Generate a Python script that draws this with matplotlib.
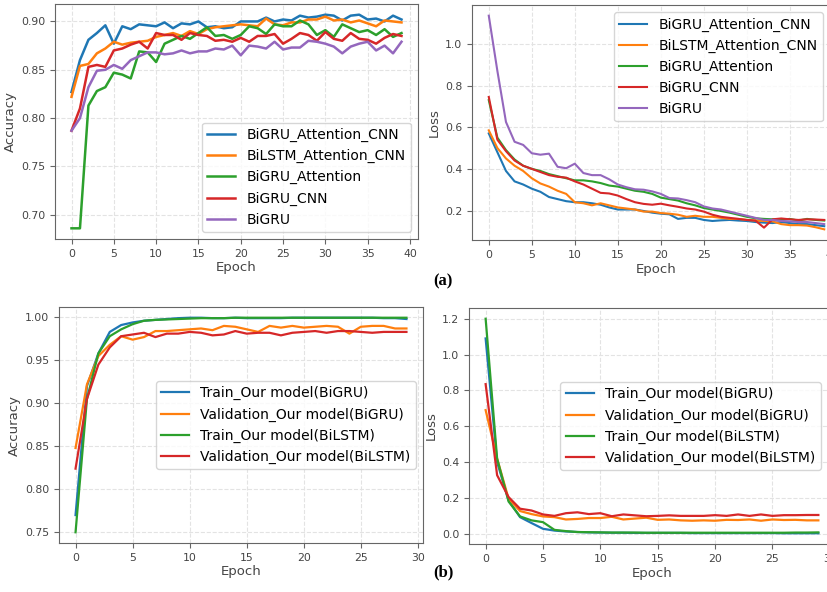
import matplotlib
matplotlib.use("Agg")
import matplotlib.pyplot as plt

# (a) five models, 40 epochs
epochs_a = list(range(40))
acc_bigru_att_cnn = [0.827, 0.860, 0.881, 0.888, 0.896, 0.877, 0.895, 0.892, 0.897, 0.896,
                     0.895, 0.899, 0.893, 0.898, 0.897, 0.900, 0.894, 0.895, 0.893, 0.894,
                     0.900, 0.900, 0.900, 0.904, 0.900, 0.902, 0.901, 0.906, 0.904, 0.905,
                     0.907, 0.906, 0.901, 0.906, 0.907, 0.902, 0.903, 0.900, 0.906, 0.902]
acc_bilstm_att_cnn = [0.822, 0.854, 0.856, 0.867, 0.872, 0.879, 0.876, 0.878, 0.879, 0.880,
                      0.884, 0.886, 0.888, 0.885, 0.890, 0.887, 0.892, 0.894, 0.895, 0.896,
                      0.897, 0.896, 0.895, 0.903, 0.897, 0.896, 0.899, 0.899, 0.902, 0.902,
                      0.905, 0.901, 0.902, 0.899, 0.901, 0.898, 0.895, 0.901, 0.900, 0.899]
acc_bigru_att = [0.686, 0.686, 0.813, 0.828, 0.832, 0.847, 0.845, 0.841, 0.869, 0.868,
                 0.858, 0.877, 0.881, 0.885, 0.882, 0.888, 0.894, 0.885, 0.886, 0.882,
                 0.886, 0.895, 0.893, 0.887, 0.897, 0.895, 0.895, 0.901, 0.897, 0.886,
                 0.891, 0.884, 0.897, 0.893, 0.889, 0.891, 0.886, 0.892, 0.884, 0.888]
acc_bigru_cnn = [0.787, 0.810, 0.853, 0.855, 0.853, 0.870, 0.872, 0.876, 0.879, 0.872,
                 0.888, 0.886, 0.886, 0.881, 0.888, 0.886, 0.885, 0.880, 0.881, 0.879,
                 0.883, 0.879, 0.885, 0.885, 0.887, 0.877, 0.882, 0.888, 0.886, 0.880,
                 0.889, 0.882, 0.880, 0.888, 0.882, 0.881, 0.877, 0.883, 0.887, 0.885]
acc_bigru = [0.787, 0.800, 0.832, 0.849, 0.850, 0.855, 0.851, 0.860, 0.864, 0.868,
             0.868, 0.866, 0.867, 0.870, 0.867, 0.869, 0.869, 0.872, 0.871, 0.875,
             0.865, 0.875, 0.874, 0.872, 0.879, 0.871, 0.873, 0.873, 0.880, 0.879,
             0.877, 0.874, 0.867, 0.874, 0.877, 0.879, 0.870, 0.875, 0.867, 0.879]

loss_bigru_att_cnn = [0.570, 0.480, 0.390, 0.340, 0.325, 0.305, 0.290, 0.265, 0.255, 0.245,
                      0.240, 0.240, 0.235, 0.228, 0.215, 0.205, 0.205, 0.205, 0.198, 0.190,
                      0.185, 0.182, 0.160, 0.165, 0.165, 0.155, 0.150, 0.153, 0.155, 0.152,
                      0.150, 0.145, 0.142, 0.140, 0.145, 0.140, 0.135, 0.135, 0.130, 0.125]
loss_bilstm_att_cnn = [0.585, 0.500, 0.450, 0.415, 0.390, 0.355, 0.330, 0.315, 0.295, 0.280,
                       0.240, 0.235, 0.225, 0.235, 0.225, 0.215, 0.210, 0.205, 0.195, 0.195,
                       0.188, 0.185, 0.180, 0.170, 0.175, 0.170, 0.170, 0.165, 0.160, 0.160,
                       0.155, 0.152, 0.150, 0.148, 0.135, 0.130, 0.130, 0.128, 0.120, 0.110]
loss_bigru_att = [0.730, 0.550, 0.490, 0.445, 0.415, 0.400, 0.390, 0.375, 0.365, 0.355,
                  0.345, 0.345, 0.340, 0.332, 0.320, 0.315, 0.305, 0.295, 0.290, 0.280,
                  0.262, 0.255, 0.248, 0.235, 0.225, 0.212, 0.205, 0.198, 0.190, 0.180,
                  0.170, 0.163, 0.160, 0.158, 0.155, 0.160, 0.152, 0.160, 0.155, 0.152]
loss_bigru_cnn = [0.745, 0.540, 0.485, 0.440, 0.415, 0.400, 0.385, 0.370, 0.362, 0.358,
                  0.340, 0.325, 0.305, 0.285, 0.282, 0.272, 0.255, 0.240, 0.232, 0.228,
                  0.233, 0.225, 0.218, 0.210, 0.205, 0.195, 0.180, 0.170, 0.165, 0.160,
                  0.155, 0.152, 0.118, 0.158, 0.162, 0.158, 0.155, 0.158, 0.157, 0.155]
loss_bigru = [1.135, 0.870, 0.625, 0.530, 0.515, 0.475, 0.468, 0.473, 0.410, 0.403,
              0.425, 0.380, 0.370, 0.370, 0.350, 0.325, 0.312, 0.302, 0.300, 0.292,
              0.280, 0.260, 0.258, 0.250, 0.240, 0.220, 0.210, 0.205, 0.195, 0.185,
              0.175, 0.165, 0.155, 0.155, 0.150, 0.148, 0.145, 0.145, 0.140, 0.135]

names_a = ["BiGRU_Attention_CNN", "BiLSTM_Attention_CNN", "BiGRU_Attention", "BiGRU_CNN", "BiGRU"]

# (b) our model, 30 epochs
epochs_b = list(range(30))
acc_train_gru = [0.770, 0.920, 0.958, 0.983, 0.991, 0.994, 0.996, 0.997, 0.998, 0.999,
                 0.9995, 0.9995, 0.999, 0.999, 0.9995, 0.999, 0.999, 0.999, 0.999, 0.9995,
                 0.9995, 0.9995, 0.9995, 0.9995, 0.9995, 0.9995, 0.9995, 0.999, 0.999, 0.998]
acc_val_gru = [0.848, 0.922, 0.955, 0.968, 0.978, 0.974, 0.977, 0.984, 0.984, 0.985,
               0.986, 0.987, 0.985, 0.990, 0.989, 0.986, 0.983, 0.990, 0.988, 0.990,
               0.988, 0.989, 0.990, 0.989, 0.981, 0.989, 0.990, 0.990, 0.987, 0.987]
acc_train_lstm = [0.750, 0.905, 0.958, 0.978, 0.986, 0.992, 0.996, 0.997, 0.9975, 0.998,
                  0.9985, 0.999, 0.999, 0.999, 0.9995, 0.9995, 0.9995, 0.9995, 0.9995, 0.9995,
                  0.9995, 0.9995, 0.9995, 0.9995, 0.9995, 0.9995, 0.9995, 0.9995, 0.9995, 0.9995]
acc_val_lstm = [0.824, 0.905, 0.945, 0.965, 0.978, 0.980, 0.982, 0.977, 0.981, 0.981,
                0.983, 0.982, 0.979, 0.980, 0.984, 0.981, 0.982, 0.982, 0.979, 0.982,
                0.983, 0.984, 0.982, 0.984, 0.984, 0.983, 0.982, 0.983, 0.983, 0.983]

loss_train_gru = [1.090, 0.400, 0.187, 0.093, 0.060, 0.028, 0.018, 0.013, 0.010, 0.008,
                  0.007, 0.006, 0.006, 0.005, 0.005, 0.005, 0.005, 0.005, 0.004, 0.004,
                  0.004, 0.004, 0.004, 0.004, 0.004, 0.004, 0.003, 0.003, 0.003, 0.003]
loss_val_gru = [0.690, 0.420, 0.196, 0.127, 0.110, 0.097, 0.093, 0.080, 0.083, 0.088,
                0.088, 0.095, 0.080, 0.085, 0.090, 0.078, 0.080, 0.075, 0.073, 0.075,
                0.073, 0.078, 0.077, 0.080, 0.073, 0.080, 0.077, 0.078, 0.075, 0.075]
loss_train_lstm = [1.200, 0.420, 0.180, 0.097, 0.075, 0.065, 0.022, 0.015, 0.010, 0.009,
                   0.008, 0.007, 0.007, 0.007, 0.006, 0.006, 0.006, 0.006, 0.006, 0.006,
                   0.006, 0.006, 0.006, 0.006, 0.006, 0.006, 0.006, 0.007, 0.007, 0.008]
loss_val_lstm = [0.835, 0.327, 0.205, 0.140, 0.130, 0.108, 0.100, 0.115, 0.120, 0.110,
                 0.115, 0.098, 0.108, 0.103, 0.098, 0.100, 0.103, 0.100, 0.100, 0.100,
                 0.104, 0.100, 0.108, 0.100, 0.108, 0.100, 0.104, 0.104, 0.105, 0.105]

names_b = ["Train_Our model(BiGRU)", "Validation_Our model(BiGRU)",
           "Train_Our model(BiLSTM)", "Validation_Our model(BiLSTM)"]

colors = ["#1f77b4", "#ff7f0e", "#2ca02c", "#d62728", "#9467bd"]

W, H = 827, 592
fig = plt.figure(figsize=(W / 100, H / 100), dpi=100)


def make_ax(left, top, width, height):
    ax = fig.add_axes([left / W, 1 - (top + height) / H, width / W, height / H])
    ax.grid(True, linestyle="--", color="#e3e3e3", linewidth=0.8)
    ax.set_axisbelow(True)
    for s in ax.spines.values():
        s.set_color("#666666")
    ax.tick_params(labelsize=7.8, colors="#666666", labelcolor="#444444")
    return ax


def style_labels(ax, ylabel):
    ax.set_xlabel("Epoch", fontsize=9.5, color="#444444", labelpad=2)
    ax.set_ylabel(ylabel, fontsize=9.5, color="#444444", labelpad=3)


# top left
ax1 = make_ax(55, 4, 363, 235)
for ys, c, n in zip([acc_bigru_att_cnn, acc_bilstm_att_cnn, acc_bigru_att, acc_bigru_cnn, acc_bigru], colors, names_a):
    ax1.plot(epochs_a, ys, color=c, lw=1.8, label=n)
ax1.set_yticks([0.70, 0.75, 0.80, 0.85, 0.90])
style_labels(ax1, "Accuracy")
leg = ax1.legend(loc="lower right", fontsize=10)
leg.get_frame().set_edgecolor("#cccccc")

# top right
ax2 = make_ax(472, 5, 369, 235)
for ys, c, n in zip([loss_bigru_att_cnn, loss_bilstm_att_cnn, loss_bigru_att, loss_bigru_cnn, loss_bigru], colors, names_a):
    ax2.plot(epochs_a, ys, color=c, lw=1.5, label=n)
ax2.set_yticks([0.2, 0.4, 0.6, 0.8, 1.0])
style_labels(ax2, "Loss")
leg = ax2.legend(loc="upper right", fontsize=10, bbox_to_anchor=(0.97, 1.0))
leg.get_frame().set_edgecolor("#cccccc")

# bottom left
ax3 = make_ax(59, 307, 364, 236)
for ys, c, n in zip([acc_train_gru, acc_val_gru, acc_train_lstm, acc_val_lstm], colors, names_b):
    ax3.plot(epochs_b, ys, color=c, lw=1.6, label=n)
style_labels(ax3, "Accuracy")
leg = ax3.legend(loc="center right", fontsize=10)
leg.get_frame().set_edgecolor("#cccccc")

# bottom right
ax4 = make_ax(469, 308, 366, 236)
for ys, c, n in zip([loss_train_gru, loss_val_gru, loss_train_lstm, loss_val_lstm], colors, names_b):
    ax4.plot(epochs_b, ys, color=c, lw=1.6, label=n)
style_labels(ax4, "Loss")
leg = ax4.legend(loc="center right", fontsize=10, bbox_to_anchor=(0.98, 0.5))
leg.get_frame().set_edgecolor("#cccccc")

fig.text(443 / W, 1 - 281 / H, "(a)", family="Liberation Serif", weight="bold",
         fontsize=12, ha="center", va="center")
fig.text(443 / W, 1 - 572 / H, "(b)", family="Liberation Serif", weight="bold",
         fontsize=12, ha="center", va="center")

fig.savefig("out.png", dpi=100)
